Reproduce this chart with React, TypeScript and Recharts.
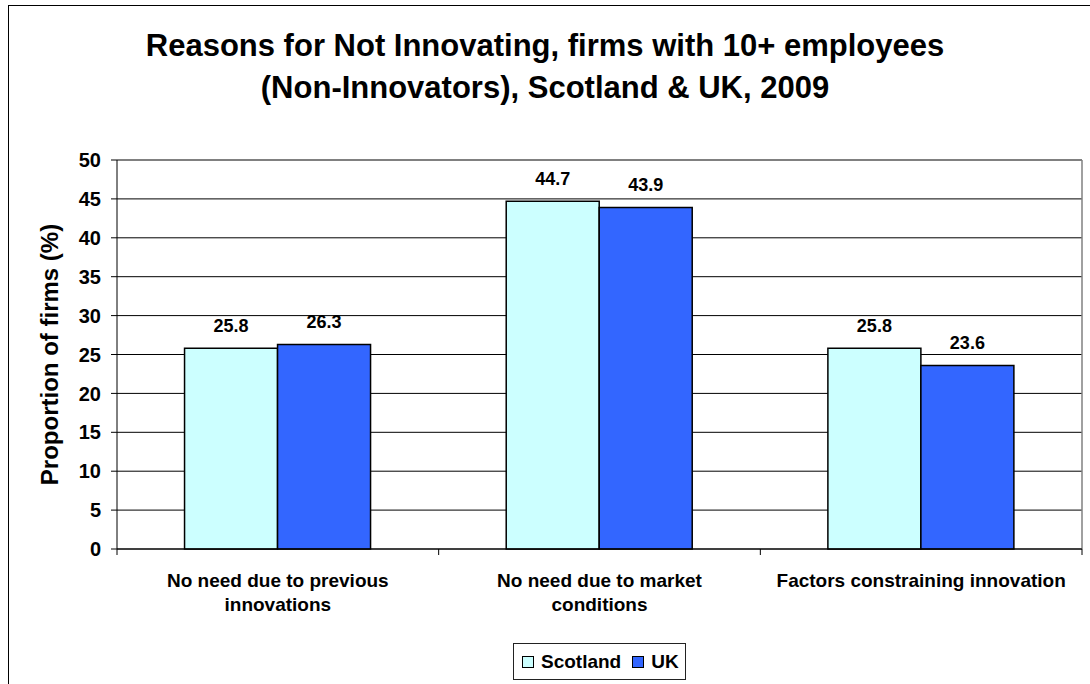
import { Bar, BarChart, CartesianGrid, LabelList, Legend, XAxis, YAxis } from "recharts";

const CATEGORIES = ["No need due to previous innovations", "No need due to market conditions", "Factors constraining innovation"];
const SCOTLAND = [25.8, 44.7, 25.8];
const UK = [26.3, 43.9, 23.6];
const Y_TICKS = [0, 5, 10, 15, 20, 25, 30, 35, 40, 45, 50];

const data = CATEGORIES.map((name, i) => ({ name, scotland: SCOTLAND[i], uk: UK[i] }));

const FONT = "'Liberation Sans', Arial, sans-serif";
const W = 1090;
const H = 684;
const MARGIN = { top: 160, right: 8, bottom: 0, left: 17 };
const Y_WIDTH = 100;
const BAND = (W - MARGIN.left - MARGIN.right - Y_WIDTH) / CATEGORIES.length;

// greedy word wrap, measured with a canvas so it doesn't depend on recharts' span measuring
let ctx: CanvasRenderingContext2D | null = null;
function wrap(label: string, maxWidth: number, font: string) {
  if (!ctx) ctx = document.createElement("canvas").getContext("2d");
  if (!ctx) return [label];
  ctx.font = font;
  const lines: string[] = [];
  let cur = "";
  for (const w of label.split(" ")) {
    const next = cur ? cur + " " + w : w;
    if (cur && ctx.measureText(next).width > maxWidth) {
      lines.push(cur);
      cur = w;
    } else {
      cur = next;
    }
  }
  if (cur) lines.push(cur);
  return lines;
}

function CategoryTick(props: any) {
  const { x, y, payload, index } = props;
  const last = index === CATEGORIES.length - 1;
  const lines = wrap(String(payload.value), 298, "bold 19px 'Liberation Sans', Arial, sans-serif");
  return (
    <g>
      <line x1={x - BAND / 2} x2={x - BAND / 2} y1={y} y2={y + 6} stroke="#000" />
      {last && <line x1={x + BAND / 2} x2={x + BAND / 2} y1={y} y2={y + 6} stroke="#000" />}
      <text x={x} y={y + 38} textAnchor="middle" fill="#000" style={{ fontFamily: FONT, fontSize: 19, fontWeight: "bold" }}>
        {lines.map((l, i) => (
          <tspan key={i} x={x} dy={i ? 24 : 0}>
            {l}
          </tspan>
        ))}
      </text>
    </g>
  );
}

function YLabel(props: any) {
  const { viewBox } = props;
  const cx = viewBox.x + 32;
  const cy = viewBox.y + viewBox.height / 2;
  return (
    <text
      x={cx}
      y={cy}
      transform={`rotate(-90 ${cx} ${cy})`}
      textAnchor="middle"
      dominantBaseline="central"
      style={{ fontFamily: FONT, fontSize: 24, fontWeight: "bold" }}
      fill="#000"
    >
      Proportion of firms (%)
    </text>
  );
}

function LegendBox(props: any) {
  const { payload } = props;
  return (
    <div
      style={{
        border: "1px solid #222",
        height: 35,
        display: "flex",
        alignItems: "center",
        padding: "0 8px",
        fontFamily: FONT,
        fontSize: 19,
        fontWeight: "bold",
        background: "#fff"
      }}
    >
      {(payload || []).map((entry: any, i: number) => (
        <div key={entry.value} style={{ display: "flex", alignItems: "center", marginLeft: i ? 11 : 0 }}>
          <span style={{ width: 10, height: 10, border: "1px solid #000", background: entry.color, display: "inline-block" }} />
          <span style={{ marginLeft: 7 }}>{entry.value}</span>
        </div>
      ))}
    </div>
  );
}

export default function App() {
  return (
    <div style={{ position: "fixed", left: 0, top: 0, width: W, height: H, overflow: "hidden", background: "#fff", fontFamily: FONT }}>
      <div style={{ position: "absolute", left: 8, top: 5, width: 1200, height: 800, border: "1px solid #000" }} />
      <div
        style={{
          position: "absolute",
          left: 0,
          top: 25,
          width: W,
          textAlign: "center",
          fontSize: 31,
          fontWeight: "bold",
          lineHeight: "42px"
        }}
      >
        Reasons for Not Innovating, firms with 10+ employees
        <br />
        (Non-Innovators), Scotland &amp; UK, 2009
      </div>
      <div style={{ position: "absolute", left: 0, top: 0 }}>
        <BarChart width={W} height={H} data={data} margin={MARGIN} barCategoryGap="21%" barGap={0}>
          <CartesianGrid vertical={false} stroke="#000" />
          <CartesianGrid
            stroke="#808080"
            strokeWidth={1.5}
            horizontalCoordinatesGenerator={({ offset }: any) => [offset.top]}
            verticalCoordinatesGenerator={({ offset }: any) => [offset.left + offset.width]}
          />
          <XAxis
            dataKey="name"
            height={135}
            stroke="#000"
            tickLine={false}
            tickSize={0}
            tickMargin={0}
            interval={0}
            tick={<CategoryTick />}
          />
          <YAxis
            width={Y_WIDTH}
            domain={[0, 50]}
            ticks={Y_TICKS}
            interval={0}
            stroke="#000"
            tickSize={6}
            tickMargin={10}
            tick={{ fill: "#000", fontSize: 20, fontWeight: "bold", fontFamily: FONT }}
            label={<YLabel />}
          />
          <Legend
            layout="horizontal"
            verticalAlign="middle"
            align="center"
            content={<LegendBox />}
            wrapperStyle={{ top: 643, left: 513, width: 173, height: 37 }}
          />
          <Bar dataKey="scotland" name="Scotland" fill="#CCFFFF" stroke="#000" strokeWidth={1.5} isAnimationActive={false}>
            <LabelList dataKey="scotland" position="top" offset={16} style={{ fontFamily: FONT, fontSize: 18, fontWeight: "bold", fill: "#000" }} />
          </Bar>
          <Bar dataKey="uk" name="UK" fill="#3366FF" stroke="#000" strokeWidth={1.5} isAnimationActive={false}>
            <LabelList dataKey="uk" position="top" offset={16} style={{ fontFamily: FONT, fontSize: 18, fontWeight: "bold", fill: "#000" }} />
          </Bar>
        </BarChart>
      </div>
    </div>
  );
}
